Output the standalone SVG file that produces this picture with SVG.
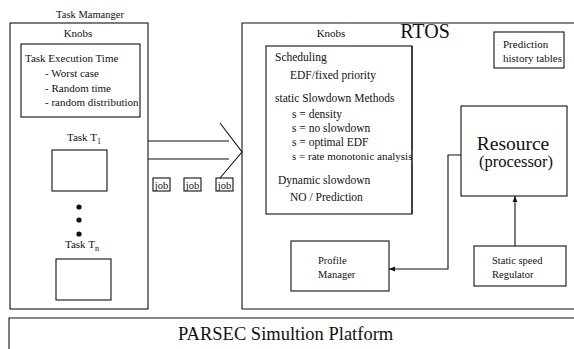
<svg xmlns="http://www.w3.org/2000/svg" width="574" height="349" viewBox="0 0 574 349">
<style>
text{font-family:"Liberation Serif","Times New Roman",serif;fill:#111}
.n{font-size:11px}
.k{font-size:11.5px}
.sm{font-size:10.5px}
.big{font-size:20px}
.res{font-size:19.5px}
.mid{font-size:16.5px}
.par{font-size:18.5px}
.sub{font-size:8px}
.box{fill:none;stroke:#111;stroke-width:1.1}
.ln{fill:none;stroke:#111;stroke-width:1.1}
</style>
<defs>
<marker id="ah" viewBox="0 0 10 10" refX="10" refY="5" markerWidth="6" markerHeight="6" orient="auto" markerUnits="userSpaceOnUse">
<path d="M0,1 L10,5 L0,9 Z" fill="#111"/>
</marker>
</defs>
<rect width="574" height="349" fill="#fff"/>

<g id="task-manager">
<text x="90" y="18" text-anchor="middle" class="sm">Task Mamanger</text>
<rect class="box" x="10" y="23" width="138" height="286"/>
<text x="78" y="37" text-anchor="middle" class="n">Knobs</text>
</g>

<g id="task-execution-time">
<rect class="box" x="21" y="44" width="119" height="73"/>
<text x="25" y="62" class="n">Task Execution Time</text>
<text x="45" y="77" class="n">- Worst case</text>
<text x="45" y="92" class="n">- Random time</text>
<text x="45" y="106" class="n">- random distribution</text>
</g>

<g id="task-t1">
<text x="67" y="141" class="n">Task  T<tspan class="sub" dy="3">1</tspan></text>
<rect class="box" x="52" y="150" width="55" height="41"/>
</g>

<g id="dots" fill="#111">
<circle cx="79" cy="207" r="2.6"/>
<circle cx="79" cy="220" r="2.6"/>
<circle cx="79" cy="234" r="2.6"/>
</g>

<g id="task-tn">
<text x="65" y="248" class="n">Task  T<tspan class="sub" dy="3">n</tspan></text>
<rect class="box" x="56" y="259" width="55" height="41"/>
</g>

<g id="jobs">
<rect class="box" x="153" y="178" width="17" height="13"/>
<text x="161.5" y="189" text-anchor="middle" class="sm">job</text>
<rect class="box" x="184" y="178" width="17" height="13"/>
<text x="192.5" y="189" text-anchor="middle" class="sm">job</text>
<rect class="box" x="216" y="178" width="17" height="13"/>
<text x="224.5" y="189" text-anchor="middle" class="sm">job</text>
</g>

<g id="rtos">
<path class="box" d="M574 23 H242 V309 H574"/>
<text x="425" y="38" text-anchor="middle" class="big">RTOS</text>
<text x="331" y="37" text-anchor="middle" class="n">Knobs</text>
</g>

<g id="rtos-knobs">
<rect class="box" x="266" y="46" width="146" height="168"/>
<text x="275" y="61" class="k">Scheduling</text>
<text x="290" y="79" class="k">EDF/fixed priority</text>
<text x="275" y="102" class="k">static Slowdown Methods</text>
<text x="292" y="118" class="k">s = density</text>
<text x="292" y="132" class="k">s = no slowdown</text>
<text x="292" y="146" class="k">s = optimal EDF</text>
<text x="292" y="160" class="n">s = rate monotonic analysis</text>
<rect x="412.6" y="150" width="6" height="14" fill="#fff"/>
<line class="ln" x1="412" y1="46" x2="412" y2="214"/>
<text x="278" y="184" class="k">Dynamic slowdown</text>
<text x="290" y="201" class="k">NO / Prediction</text>
</g>

<g id="prediction-history">
<rect class="box" x="494" y="32" width="70" height="36"/>
<text x="503" y="48" class="n">Prediction</text>
<text x="503" y="62" class="n">history tables</text>
</g>

<g id="resource">
<rect class="box" x="461" y="106" width="106" height="90"/>
<text x="513" y="150" text-anchor="middle" class="res">Resource</text>
<text x="516" y="167" text-anchor="middle" class="mid">(processor)</text>
</g>

<g id="profile-manager">
<rect class="box" x="291" y="241" width="98" height="50"/>
<text x="318" y="264" class="sm">Profile</text>
<text x="318" y="278" class="sm">Manager</text>
</g>

<g id="static-speed-regulator">
<rect class="box" x="474" y="246" width="92" height="40"/>
<text x="492" y="264" class="sm">Static speed</text>
<text x="492" y="278" class="sm">Regulator</text>
</g>

<g id="parsec">
<path class="box" d="M574 318 H9 V349"/>
<text x="178" y="340" class="par">PARSEC Simultion Platform</text>
</g>

<g id="connectors">
<line class="ln" x1="148" y1="141" x2="229" y2="141"/>
<line class="ln" x1="148" y1="159" x2="229" y2="159"/>
<polyline class="ln" points="220,123 242,152 220,178"/>
<polyline class="ln" points="461,155 448,155 448,269 389,269" marker-end="url(#ah)"/>
<line class="ln" x1="515" y1="246" x2="515" y2="196" marker-end="url(#ah)"/>
</g>
</svg>
